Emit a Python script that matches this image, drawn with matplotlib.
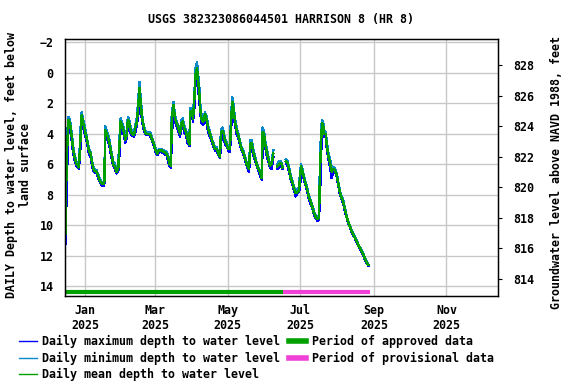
import numpy as np
import matplotlib
matplotlib.use("Agg")
import matplotlib.pyplot as plt
import matplotlib.dates as mdates
from matplotlib.lines import Line2D

nan = np.nan
# days after 2025-01-01
days = [-17.1, -15.7, -14.3, -12.9, -11.5, -10.1, -8.7, -7.3, -5.3, -3.9, -3.0, -1.7, 0, 1.2, 3.1, 4.5, 5.9, 7.3,
        9.6, 11, 12.4, 14.3, 16, 16.8, 19.4, 20.8, 22.2, 23.6, 25, 26.4, 27.8, 28.6, 29.8, 31.1, 32.6, 33.7, 34.8,
        35.9, 37, 38.2, 39.3, 41, 42.1, 43.2, 44.6, 45.5, 46.6, 47.7, 48.8, 50.3, 51.7, 54.5, 55.9, 57.8, 59.3,
        60.6, 62, 64.3, 66.2, 68.5, 69.9, 70.7, 72.1, 72.7, 74.1, 75.5, 76.9, 78.3, 79.7, 81.1, 82, 83.4, 84.8,
        86.2, 87.6, 88.4, 89.5, 90.7, 91.8, 92.9, 94, 95.2, 96, 96.8, 98, 99.3, 100.8, 102.2, 103.5, 105, 106.4,
        107.7, 109.2, 110.6, 112, 113.4, 114.2, 115.3, 116.5, 117.6, 119, 120.4, 121.8, 122.6, 123.7, 124.9, 126,
        127.4, 128.8, 130.2, 131.6, 133, 134.4, 135.9, 137.8, 138.9, 140, 141.4, 142.8, 144.3, 145.6, 147, 148.5,
        149.3, 150.4, 151.3, 152.7, 154, 155.5, 156.9, 158.3, 160, 161.6, 163, 164.3, 165.2, 166, 167.5, 168.9,
        170.3, 171.5, 172.9, 174.3, 175.7, 177.1, 178.5, 179.9, 180.7, 181.6, 182.7, 184.1, 185.5, 186.9, 188.3,
        189.7, 191.1, 192.5, 193.9, 195.6, 196.7, 197.6, 198.4, 199.2, 200.3, 201.2, 202.3, 203.2, 204.5, 206,
        207.4, 208.8, 210.2, 211.6, 213, 214.4, 215.8, 217.2, 218.6, 220, 221.4, 222.8, 224.2, 225.6, 227, 228.4,
        229.8, 231.2, 232.6, 234, 235.4, 236.8, 238.2]
mean_d = [11.9, 6.0, 3.1, 3.3, 4.1, 5.1, 5.6, 6.0, 6.2, 4.1, 2.8, 3.3, 3.9, 4.3, 5.1, 5.3, 6.0, 6.4,
          6.5, 6.8, 7.1, 7.3, 7.3, 3.75, 4.3, 4.8, 5.4, 6.0, 6.15, 6.5, 6.2, 5.0, 3.2, 3.5, 3.9, 4.4, 4.1,
          3.1, 3.3, 3.8, 4.0, 4.1, 3.6, 3.3, 2.3, 1.0, 1.9, 2.9, 3.4, 3.9, 4.0, 4.0, 4.3, 4.7, 5.1,
          5.3, 5.1, 5.1, 5.2, 5.3, 5.6, 6.0, 6.1, 3.3, 2.1, 3.0, 3.3, 3.6, 4.0, 3.3, 3.2, 3.7, 3.9,
          4.4, 4.7, 2.55, 2.5, 3.0, 1.7, 0.05, -0.3, 0.7, 1.35, 2.4, 3.1, 3.2, 2.7, 3.1, 3.7, 4.0, 4.4,
          4.7, 5.0, 5.0, 5.3, 5.5, 3.9, 3.8, 4.0, 4.5, 4.7, 5.0, 5.0, 3.4, 1.9, 2.4, 3.2,
          3.8, 4.1, 4.6, 5.0, 5.2, 5.6, 6.0, 6.3, 4.7, 4.6, 5.2, 5.6, 6.0, 6.3, 6.5, 6.9,
          3.9, 4.0, 4.6, 5.2, 5.6, 6.1, 6.0, 5.3, nan, 6.15, 6.0, 5.9, 6.0, 6.2, nan, 5.8,
          5.95, 6.3, 6.9, 7.2, 7.6, 7.9, 7.8, 7.7, 6.9, 6.15, 6.4, 6.9, 7.3, 7.7, 8.2,
          8.45, 8.8, 9.2, 9.45, 9.6, 9.5, 6.3, 4.7, 3.3, 3.5, 4.0, 4.0, 4.7, 5.4, 5.9,
          6.5, 6.3, 6.4, 6.7, 7.3, 7.9, 8.2, 8.5, 9.0, 9.45, 9.8, 10.1, 10.4, 10.6, 10.8, 11.05,
          11.3, 11.5, 11.7, 11.9, 12.2, 12.4, 12.6]
max_d = [12.2, 8.0, 3.4, 3.6, 4.4, 5.3, 5.8, 6.1, 6.3, 4.7, 3.1, 3.6, 4.1, 4.5, 5.3, 5.5, 6.2, 6.5,
         6.6, 6.9, 7.2, 7.4, 7.4, 4.2, 4.5, 5.0, 5.6, 6.1, 6.3, 6.6, 6.4, 5.6, 3.5, 3.8, 4.1, 4.6, 4.3,
         3.4, 3.5, 4.0, 4.1, 4.2, 3.9, 3.5, 2.8, 1.4, 2.3, 3.1, 3.6, 4.0, 4.1, 4.1, 4.4, 4.8, 5.2,
         5.4, 5.2, 5.2, 5.3, 5.4, 5.8, 6.1, 6.2, 4.5, 2.4, 3.2, 3.5, 3.8, 4.2, 3.5, 3.4, 3.9, 4.1,
         4.6, 4.8, 3.0, 2.7, 3.2, 2.3, 0.4, 0.0, 1.2, 1.8, 2.7, 3.3, 3.4, 2.9, 3.3, 3.9, 4.2, 4.5,
         4.8, 5.1, 5.1, 5.4, 5.6, 4.6, 4.0, 4.2, 4.7, 4.8, 5.1, 5.2, 4.0, 2.2, 2.7, 3.4,
         4.0, 4.3, 4.7, 5.1, 5.3, 5.7, 6.1, 6.5, 5.2, 4.8, 5.4, 5.7, 6.1, 6.4, 6.7, 7.0,
         4.8, 4.2, 4.8, 5.4, 5.8, 6.2, 6.3, 5.5, nan, 6.3, 6.2, 6.1, 6.2, 6.3, nan, 5.9,
         6.1, 6.5, 7.0, 7.3, 7.7, 8.1, 7.9, 7.8, 7.5, 6.4, 6.6, 7.0, 7.4, 7.8, 8.3,
         8.6, 8.9, 9.3, 9.55, 9.7, 9.6, 8.0, 5.6, 3.8, 3.7, 4.2, 4.2, 4.9, 5.6, 6.2,
         6.9, 6.5, 6.5, 6.8, 7.4, 8.0, 8.3, 8.6, 9.1, 9.5, 9.85, 10.15, 10.45, 10.65, 10.85, 11.1,
         11.35, 11.55, 11.75, 11.95, 12.25, 12.45, 12.65]
min_d = [11.6, 5.0, 2.9, 3.1, 3.9, 4.9, 5.5, 5.9, 6.0, 3.6, 2.6, 3.1, 3.7, 4.2, 5.0, 5.2, 5.9, 6.3,
         6.4, 6.7, 7.0, 7.2, 7.2, 3.5, 4.1, 4.6, 5.3, 5.8, 6.0, 6.4, 6.0, 4.5, 3.0, 3.3, 3.7, 4.2, 3.9,
         2.9, 3.1, 3.6, 3.9, 4.0, 3.4, 3.1, 1.9, 0.6, 1.6, 2.7, 3.3, 3.8, 3.9, 3.9, 4.2, 4.6, 5.0,
         5.2, 5.0, 5.0, 5.1, 5.2, 5.5, 5.9, 5.8, 2.9, 1.9, 2.8, 3.2, 3.5, 3.8, 3.1, 3.0, 3.5, 3.8,
         4.2, 4.5, 2.3, 2.3, 2.8, 1.4, -0.3, -0.7, 0.3, 1.0, 2.1, 2.9, 3.0, 2.6, 2.9, 3.5, 3.9, 4.3,
         4.6, 4.9, 4.9, 5.2, 5.4, 3.7, 3.6, 3.9, 4.3, 4.6, 4.9, 4.9, 3.0, 1.6, 2.2, 3.0,
         3.6, 4.0, 4.5, 4.9, 5.1, 5.5, 5.9, 6.1, 4.4, 4.4, 5.0, 5.5, 5.9, 6.2, 6.4, 6.7,
         3.6, 3.8, 4.4, 5.0, 5.5, 6.0, 5.8, 5.1, nan, 6.0, 5.8, 5.8, 5.9, 6.1, nan, 5.7,
         5.8, 6.2, 6.7, 7.1, 7.5, 7.8, 7.6, 7.5, 6.6, 6.0, 6.3, 6.8, 7.2, 7.6, 8.1,
         8.35, 8.7, 9.1, 9.35, 9.5, 9.4, 5.5, 4.0, 3.1, 3.3, 3.8, 3.9, 4.5, 5.2, 5.7,
         6.2, 6.2, 6.3, 6.6, 7.2, 7.8, 8.1, 8.4, 8.9, 9.4, 9.75, 10.05, 10.35, 10.55, 10.75, 11.0,
         11.25, 11.45, 11.65, 11.85, 12.15, 12.35, 12.55]

approved_end = 166.8
provisional_end = 239.6
datum = 827.5
tick_months = ["2025-01-01", "2025-03-01", "2025-05-01", "2025-07-01", "2025-09-01", "2025-11-01"]
tick_labels = ["Jan\n2025", "Mar\n2025", "May\n2025", "Jul\n2025", "Sep\n2025", "Nov\n2025"]


def to_dates(d):
    return np.datetime64("2025-01-01T00:00") + (np.array(d) * 24 * 60).round().astype("timedelta64[m]")


plt.rcParams["font.family"] = "DejaVu Sans Mono"
plt.rcParams["font.weight"] = "bold"
plt.rcParams["font.size"] = 8.4

fig = plt.figure(figsize=(5.76, 3.84), dpi=100)
ax = fig.add_axes([64.7 / 576, 1 - 296 / 384, (498.3 - 64.7) / 576, (296 - 39.3) / 384])

t = to_dates(days)
ax.plot(t, max_d, color="#0000ff", lw=1, antialiased=False)
ax.plot(t, min_d, color="#0a88cc", lw=1, antialiased=False)
ax.plot(t, mean_d, color="#00a000", lw=1, antialiased=False)

ax.plot(to_dates([-17.5, approved_end]), [14.4, 14.4], color="#00a000", lw=3, solid_capstyle="butt")
ax.plot(to_dates([approved_end, provisional_end]), [14.4, 14.4], color="#f040d8", lw=3, solid_capstyle="butt")

ax.set_xlim(to_dates([-17.3, 347.6]))
ax.set_ylim(14.63, -2.19)
ax.set_yticks(np.arange(-2, 15, 2))
ax.set_xticks(np.array(tick_months, dtype="datetime64[D]"))
ax.set_xticklabels(tick_labels, linespacing=1.2)
ax.grid(True, color="#c8c8c8", lw=1)
ax.set_axisbelow(True)
ax.tick_params(axis="both", length=0)
ax.tick_params(axis="x", pad=5.5)
ax.tick_params(axis="y", pad=8)
for s in ax.spines.values():
    s.set_linewidth(1)

ax2 = ax.twinx()
lo, hi = ax.get_ylim()
ax2.set_ylim(datum - lo, datum - hi)
ax2.set_yticks(np.arange(814, 829, 2))
ax2.tick_params(axis="y", length=3, pad=8)

fig.text(281.5 / 576, 1 - 19 / 384, "USGS 382323086044501 HARRISON 8 (HR 8)", ha="center", va="center")
fig.text(18.5 / 576, 0.57, "DAILY Depth to water level, feet below\nland surface", rotation=90,
         ha="center", va="center", linespacing=1.1)
fig.text(557 / 576, 0.552, "Groundwater level above NAVD 1988, feet", rotation=90, ha="center", va="center")

handles = [Line2D([], [], color="#0000ff", lw=1), Line2D([], [], color="#0a88cc", lw=1),
           Line2D([], [], color="#00a000", lw=1), Line2D([], [], color="#00a000", lw=4),
           Line2D([], [], color="#f040d8", lw=4)]
labels = ["Daily maximum depth to water level", "Daily minimum depth to water level",
          "Daily mean depth to water level", "Period of approved data", "Period of provisional data"]
fig.legend(handles, labels, loc="upper left", bbox_to_anchor=(19 / 576, 1 - 335 / 384), ncol=2,
           frameon=False, borderpad=0, borderaxespad=0, handlelength=1.5, handletextpad=0.5,
           columnspacing=0.7, labelspacing=0.3)

fig.savefig("out.png", dpi=100)
